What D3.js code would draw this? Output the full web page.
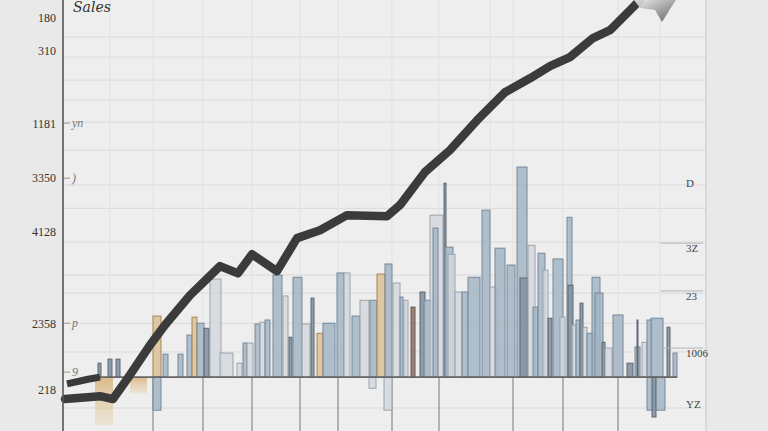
<!DOCTYPE html>
<html><head><meta charset="utf-8">
<script src="https://cdn.jsdelivr.net/npm/d3@7"></script>
<style>
html,body{margin:0;padding:0;background:#e9e9e9;}
svg{display:block;}
</style></head>
<body>
<svg id="chart" width="768" height="431"></svg>
<script>
// ---------- DATA ----------
const title = "Sales";
// bars: bin start / bin end (period units), value, group
const binStart = [7.0,9.0,10.6,18.0,20.0,23.0,24.8,25.8,26.8,28.2,29.4,31.4,34.8,36.0,36.8,38.4,39.4,40.4,42.0,44.0,45.2,46.0,47.8,49.6,50.8,52.0,54.8,56.2,57.8,59.4,61.4,62.8,64.4,66.0,67.4,68.2,69.6,71.4,72.2,73.4,74.0,76.2,76.4,77.0,78.4,79.8,81.0,83.8,85.4,86.4,88.8,90.8,91.4,93.0,94.0,95.0,96.0,97.0,98.0,99.4,100.8,101.0,101.8,102.6,103.4,104.0,104.8,105.8,106.4,107.8,108.4,110.0,112.8,114.4,114.8,115.8,116.8,117.6,120.8,122.0,
  6.4,13.4,18.0,61.2,64.2,116.8,117.8];
const binEnd   = [7.6,9.8,11.4,19.6,21.0,24.0,25.8,26.8,28.2,29.2,31.6,34.0,35.8,36.8,38.0,39.4,40.4,41.4,43.8,45.0,45.8,47.8,49.4,50.2,52.0,54.4,56.2,57.4,59.4,61.2,62.8,64.4,65.8,67.4,68.0,69.0,70.4,72.4,73.8,76.0,75.0,76.6,78.0,78.4,79.8,81.0,83.4,85.4,86.8,88.4,90.4,92.8,93.0,94.4,95.0,96.4,97.0,97.8,100.0,100.4,101.8,102.0,102.6,103.4,104.0,104.8,106.0,107.4,108.0,108.4,109.8,112.0,114.0,115.4,115.0,116.8,117.8,120.0,121.4,122.8,
  10.0,16.8,19.6,62.6,65.8,120.4,118.6];
const barValue = [3.9,5.0,5.0,17.0,6.4,6.4,11.7,16.7,15.0,13.6,27.3,6.7,3.9,9.5,9.5,14.8,15.3,15.9,28.4,22.6,11.1,27.8,14.8,22.0,12.2,15.0,29.0,29.0,17.0,21.4,21.4,28.7,31.5,26.2,22.3,21.4,19.5,23.7,21.4,45.1,41.5,54.0,36.2,34.2,23.7,23.7,27.8,46.5,25.1,35.9,31.2,58.5,27.6,36.7,19.5,34.5,29.8,16.4,32.9,16.7,44.5,25.6,14.5,15.9,20.6,13.9,12.2,27.8,23.4,9.7,8.1,17.3,3.9,8.4,15.9,9.7,15.9,16.4,13.9,6.7,
  -13.4,-4.5,-9.2,-3.1,-9.2,-9.2,-11.1];
const barGroup = ["dark","dark","dark","tan","blue","blue","blue","tan","blue","dark","light","light","light","blue","light","blue","light","blue","blue","light","dark","blue","light","dark","tan","blue","blue","light","blue","light","blue","tan","blue","light","blue","light","brown","dark","blue","light","blue","dark","blue","light","light","blue","blue","blue","light","blue","blue","blue","dark","light","blue","blue","light","dark","blue","light","blue","dark","light","blue","dark","light","blue","blue","blue","dark","light","blue","dark","blue","dark","light","blue","blue","dark","blue",
  "sand","sand","blue","light","light","blue","dark"];

// trend line
const lineX = [0.4,7.4,10.0,13.4,17.4,20.4,25.4,31.4,35.0,37.8,42.8,46.8,51.4,56.8,64.8,67.4,72.4,77.4,82.8,88.4,93.4,97.4,101.4,106.0,109.4,113.8,115.4];
const lineV = [-6.1,-5.3,-6.1,0.6,8.9,14.5,22.8,30.9,28.9,34.2,29.5,38.7,40.9,45.1,44.8,47.9,57.1,63.2,71.5,79.3,83.2,86.6,89.1,94.4,96.6,102.7,105.0];
const line2X = [0.8,5.0,7.4];
const line2V = [-1.9,-0.6,0.0];

// axes
const leftTickValues = [100,91.0,70.7,55.4,40.6,15.0,-3.6];
const leftTickLabels = ["180","310","1181","3350","4128","2358","218"];
const leftMarkValues = [70.7,55.4,15.0,1.4];
const leftMarkLabels = ["yn",")","p","9"];
const rightTickValues = [54.0,35.9,22.6,6.7,-7.5];
const rightTickLabels = ["D","3Z","23","1006","YZ"];
const gridValues = [94.7,89.1,82.7,77.1,71.0,63.2,53.5,47.0,37.6,28.4,23.4,15.0,7.0,-8.6];
const vGridValues = [9.4,18.0,28.0,37.8,47.4,55.0,65.8,75.2,85.4,90.0,100.0,111.0,119.4];
const vGridLowValues = [18.0,28.0,37.8,47.4,55.0,65.8,75.2,90.0,100.0,111.0];
const refValue = 100;

// ---------- CHART ----------
const svg = d3.select("#chart");
const W = 768, H = 431;
const x = d3.scaleLinear().domain([0,128.6]).range([63,706]);
const y = d3.scaleLinear().domain([-15,105]).range([431,0]);

const defs = svg.append("defs");
const g1 = defs.append("linearGradient").attr("id","refGrad").attr("x1","0").attr("x2","1");
g1.append("stop").attr("offset","0").attr("stop-color","#222");
g1.append("stop").attr("offset","0.5").attr("stop-color","#666");
g1.append("stop").attr("offset","1").attr("stop-color","#ddd").attr("stop-opacity","0.3");
const g2 = defs.append("linearGradient").attr("id","tipGrad").attr("x1","0").attr("x2","1").attr("y1","0").attr("y2","1");
g2.append("stop").attr("offset","0").attr("stop-color","#eee");
g2.append("stop").attr("offset","1").attr("stop-color","#555");
const g3 = defs.append("linearGradient").attr("id","sandGrad").attr("x1","0").attr("x2","0").attr("y1","0").attr("y2","1");
g3.append("stop").attr("offset","0").attr("stop-color","#d9b57c").attr("stop-opacity","0.9");
g3.append("stop").attr("offset","1").attr("stop-color","#e6cfa8").attr("stop-opacity","0.35");

// plot background
svg.append("rect").attr("x",x(0)).attr("y",0).attr("width",x.range()[1]-x(0)).attr("height",H).attr("fill","#eeeeee");

// horizontal grid
svg.append("g").selectAll("line").data(gridValues).join("line")
  .attr("x1",x(0)).attr("x2",x.range()[1]).attr("y1",d=>y(d)).attr("y2",d=>y(d))
  .attr("stroke","#dadada").attr("stroke-width",1);
// vertical grid (upper faint)
svg.append("g").selectAll("line").data(vGridValues).join("line")
  .attr("x1",d=>x(d)).attr("x2",d=>x(d)).attr("y1",0).attr("y2",y(0))
  .attr("stroke","#e1e1e1").attr("stroke-width",1);
// vertical grid below baseline
svg.append("g").selectAll("line").data(vGridLowValues).join("line")
  .attr("x1",d=>x(d)).attr("x2",d=>x(d)).attr("y1",y(0)).attr("y2",H)
  .attr("stroke","#8a8a8a").attr("stroke-width",1.2);

// right border
svg.append("line").attr("x1",x.range()[1]).attr("x2",x.range()[1]).attr("y1",0).attr("y2",H)
  .attr("stroke","#cdcdcd").attr("stroke-width",1.2);

// reference (top) line
svg.append("line").attr("x1",x(1)).attr("x2",x(100)).attr("y1",y(refValue)-2).attr("y2",y(refValue)-2)
  .attr("stroke","url(#refGrad)").attr("stroke-width",2.5);

// title
svg.append("text").attr("x",x(2)).attr("y",12).text(title)
  .attr("font-family","DejaVu Serif").attr("font-size",14).attr("font-style","italic").attr("fill","#333");

// bars
const colors = {
  blue:{fill:"#a3b5c4",stroke:"#76889a",op:0.85},
  light:{fill:"#d3d8dd",stroke:"#9aa3ab",op:0.85},
  dark:{fill:"#8494a2",stroke:"#5c6873",op:0.9},
  tan:{fill:"#d9bd90",stroke:"#a98552",op:0.8},
  sand:{fill:"url(#sandGrad)",stroke:"none",op:1},
  brown:{fill:"#8d776a",stroke:"#6b574b",op:0.9}
};
const bars = binStart.map((s,i)=>({s,e:binEnd[i],v:barValue[i],g:barGroup[i]}));
svg.append("g").selectAll("rect").data(bars).join("rect")
  .attr("x",d=>x(d.s)).attr("width",d=>Math.max(1,x(d.e)-x(d.s)))
  .attr("y",d=>Math.min(y(d.v),y(0))).attr("height",d=>Math.abs(y(d.v)-y(0)))
  .attr("fill",d=>colors[d.g].fill).attr("fill-opacity",d=>colors[d.g].op)
  .attr("stroke",d=>colors[d.g].stroke).attr("stroke-width",1);

// baseline
const bx0 = d3.min(binStart), bx1 = d3.max(binEnd);
svg.append("line").attr("x1",x(bx0)).attr("x2",x(bx1)).attr("y1",y(0)).attr("y2",y(0))
  .attr("stroke","#666").attr("stroke-width",1.6);

// lines
const lineGen = d3.line().x(d=>x(d[0])).y(d=>y(d[1]));
svg.append("path").datum(line2X.map((v,i)=>[v,line2V[i]])).attr("d",lineGen)
  .attr("fill","none").attr("stroke","#3a3a3a").attr("stroke-width",7).attr("stroke-linejoin","round");
const pts = lineX.map((v,i)=>[v,lineV[i]]);
svg.append("path").datum(pts).attr("d",lineGen)
  .attr("fill","none").attr("stroke","#3b3b3b").attr("stroke-width",8.5)
  .attr("stroke-linejoin","round").attr("stroke-linecap","round");
// arrow tip at the end of the line
const last = pts[pts.length-1];
const tx = x(last[0]), ty = y(last[1]);
svg.append("path")
  .attr("d",`M${tx-6},${ty} L${tx+36},${ty} L${tx+32},${ty+6} L${tx+22},${ty+22} L${tx+15},${ty+10} L${tx},${ty+8} Z`)
  .attr("fill","url(#tipGrad)").attr("opacity",0.9);

// y axis
svg.append("line").attr("x1",x(0)).attr("x2",x(0)).attr("y1",0).attr("y2",H)
  .attr("stroke","#555").attr("stroke-width",1.6);
const leftAxis = d3.axisLeft(y).tickValues(leftTickValues).tickSize(0).tickPadding(7)
  .tickFormat((d,i)=>leftTickLabels[i]);
const la = svg.append("g").attr("transform",`translate(${x(0)},0)`).call(leftAxis);
la.select(".domain").remove();
la.selectAll("text").attr("font-family","Liberation Serif").attr("font-size",12).attr("fill","#333");

// small marks right of the axis
const mk = svg.append("g");
leftMarkValues.forEach((v,i)=>{
  mk.append("line").attr("x1",x(0)+1).attr("x2",x(1.4)).attr("y1",y(v)).attr("y2",y(v)).attr("stroke","#999");
  mk.append("text").attr("x",x(1.8)).attr("y",y(v)+4).text(leftMarkLabels[i])
    .attr("font-family","Liberation Serif").attr("font-style","italic").attr("font-size",12).attr("fill","#777");
});

// right axis labels
const rightAxis = d3.axisRight(y).tickValues(rightTickValues).tickSize(0).tickPadding(0)
  .tickFormat((d,i)=>rightTickLabels[i]);
const ra = svg.append("g").attr("transform",`translate(${x(124.6)},0)`).call(rightAxis);
ra.select(".domain").remove();
ra.selectAll("text").attr("font-family","Liberation Serif").attr("font-size",11).attr("fill","#444");
svg.append("g").selectAll("line").data(rightTickValues.slice(1,4)).join("line")
  .attr("x1",x(119.5)).attr("x2",x(128)).attr("y1",d=>y(d)-5).attr("y2",d=>y(d)-5)
  .attr("stroke","#b5b5b5").attr("stroke-width",1);
</script>
</body></html>
